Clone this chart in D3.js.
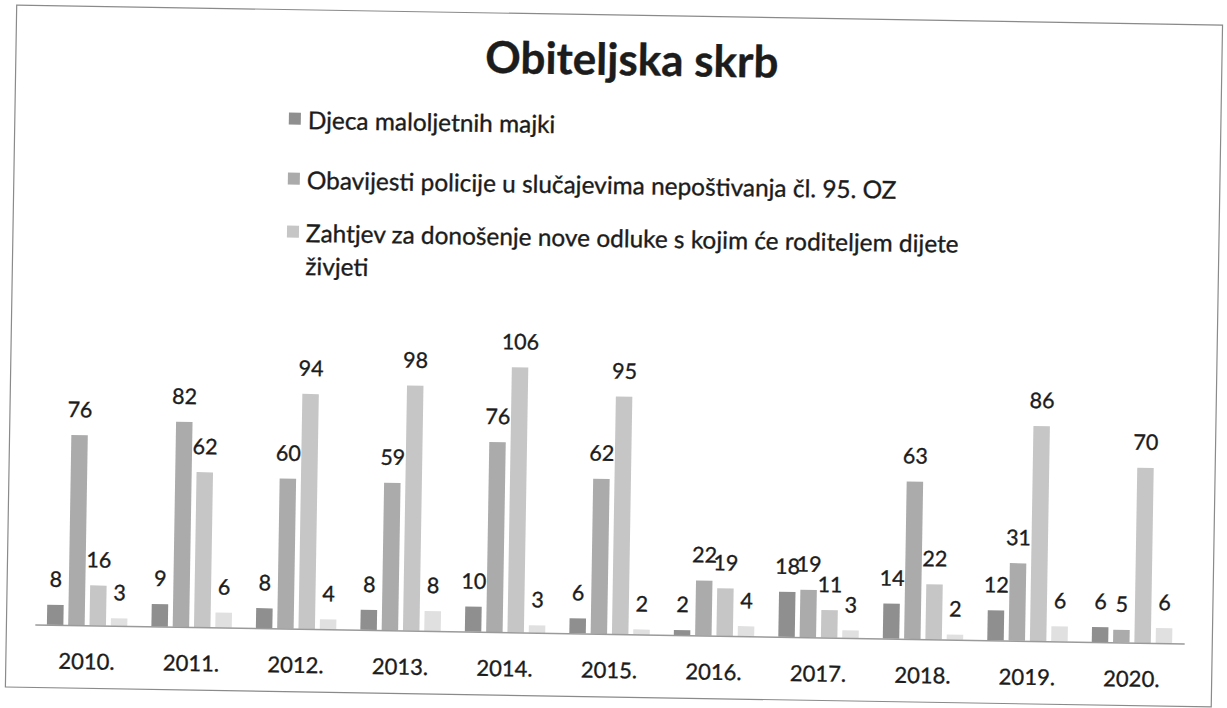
<!DOCTYPE html>
<html>
<head>
<meta charset="utf-8">
<script src="https://cdn.jsdelivr.net/npm/d3@7"></script>
<style>
  html, body { margin: 0; padding: 0; background: #ffffff; }
  svg { display: block; }
  text { font-family: Lato, "Open Sans", sans-serif; fill: #1c1c1c; stroke: #1c1c1c; stroke-width: 0.35px; }
</style>
</head>
<body>
<svg id="chart" width="1227" height="708"></svg>
<script>
// ---- data ----
const chartTitle = "Obiteljska skrb";
const years = ["2010.", "2011.", "2012.", "2013.", "2014.", "2015.", "2016.", "2017.", "2018.", "2019.", "2020."];
const seriesNames = [
  "Djeca maloljetnih majki",
  "Obavijesti policije u slučajevima nepoštivanja čl. 95. OZ",
  "Zahtjev za donošenje nove odluke s kojim će roditeljem dijete živjeti",
  "" // fourth series: its legend entry is cut off in the reference
];
const djecaMaloljetnihMajki = [8, 9, 8, 8, 10, 6, 2, 18, 14, 12, 6];
const obavijestiPolicije    = [76, 82, 60, 59, 76, 62, 22, 19, 63, 31, 5];
const zahtjevNovaOdluka     = [16, 62, 94, 98, 106, 95, 19, 11, 22, 86, 70];
const cetvrtaSerija         = [3, 6, 4, 8, 3, 2, 4, 3, 2, 6, 6];
const seriesColors = ["#8f8f8f", "#ababab", "#c6c6c6", "#e0e0e0"];
const legendCount = 3;

const seriesValues = [djecaMaloljetnihMajki, obavijestiPolicije, zahtjevNovaOdluka, cetvrtaSerija];
const seriesKeys = d3.range(seriesValues.length);

// ---- layout ----
const W = 1227, H = 708;
const svg = d3.select("#chart");
svg.append("rect").attr("width", W).attr("height", H).attr("fill", "#ffffff");

// the scanned page is tilted slightly
const g = svg.append("g").attr("transform", "rotate(0.95, 613, 354)");

// frame
g.append("rect")
  .attr("x", 11).attr("y", 15).attr("width", 1206).attr("height", 682)
  .attr("fill", "none").attr("stroke", "#8a8a8a").attr("stroke-width", 1.2);

// title
g.append("text")
  .attr("x", 627).attr("y", 75)
  .attr("text-anchor", "middle")
  .style("font-size", "44px").style("font-weight", "700")
  .text(chartTitle);

// scales
const baseY = 634;
const x0 = d3.scaleBand().domain(years).range([39.4, 1188.9]).padding(0);
const x1 = d3.scaleBand().domain(seriesKeys).range([0, x0.bandwidth()])
  .paddingInner(0.227).paddingOuter(0.566);
const y = d3.scaleLinear().domain([0, 120]).range([baseY, baseY - 300]);

// bars
const groups = g.append("g").selectAll("g")
  .data(years)
  .join("g")
  .attr("transform", d => `translate(${x0(d)},0)`);

groups.selectAll("rect")
  .data((d, i) => seriesKeys.map(k => ({ k, v: seriesValues[k][i] })))
  .join("rect")
  .attr("x", d => x1(d.k))
  .attr("width", x1.bandwidth())
  .attr("y", d => y(d.v))
  .attr("height", d => y(0) - y(d.v))
  .attr("fill", d => seriesColors[d.k]);

groups.selectAll("text.val")
  .data((d, i) => seriesKeys.map(k => ({ k, v: seriesValues[k][i] })))
  .join("text")
  .attr("class", "val")
  .attr("x", d => x1(d.k) + x1.bandwidth() / 2)
  .attr("y", d => y(d.v) - 18)
  .attr("text-anchor", "middle")
  .style("font-size", "21.5px")
  .text(d => d.v);

// category axis
const axis = g.append("g")
  .attr("transform", `translate(0,${baseY})`)
  .call(d3.axisBottom(x0).tickSize(0).tickSizeOuter(0));
axis.select(".domain").attr("stroke", "#9a9a9a").attr("stroke-width", 1.5);
axis.selectAll("text")
  .attr("y", 44).attr("dy", 0)
  .style("font-size", "22px")
  .style("font-family", "Lato, sans-serif")
  .attr("fill", "#1c1c1c");

// legend
const legendX = 285, textX = 304;
const legendBaselines = [134, 194, 247];
const lineGap = 33;
const maxLegendWidth = 700;

seriesNames.slice(0, legendCount).forEach((name, i) => {
  const lg = g.append("g");
  lg.append("rect")
    .attr("x", legendX).attr("y", legendBaselines[i] - 16)
    .attr("width", 12).attr("height", 12)
    .attr("fill", seriesColors[i]);
  const t = lg.append("text")
    .attr("x", textX).attr("y", legendBaselines[i])
    .style("font-size", "24.4px");
  // simple word wrap
  const words = name.split(" ");
  let line = [];
  let tspan = t.append("tspan").attr("x", textX).attr("y", legendBaselines[i]);
  let lineNo = 0;
  words.forEach(w => {
    line.push(w);
    tspan.text(line.join(" "));
    if (tspan.node().getComputedTextLength() > maxLegendWidth && line.length > 1) {
      line.pop();
      tspan.text(line.join(" "));
      line = [w];
      lineNo++;
      tspan = t.append("tspan").attr("x", textX)
        .attr("y", legendBaselines[i] + lineNo * lineGap).text(w);
    }
  });
});
</script>
</body>
</html>
